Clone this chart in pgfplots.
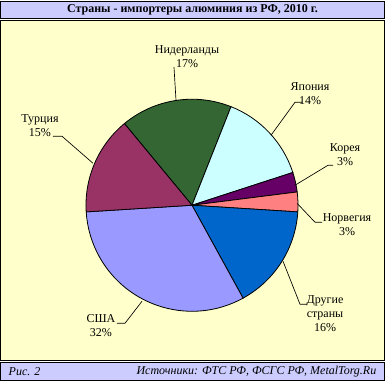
\documentclass[border=0pt]{standalone}
\usepackage{pgfplots}
\pgfplotsset{compat=1.18}
\usepackage{pgfplotstable}
\usepackage{fontspec}
\setmainfont{Liberation Serif}

\definecolor{lav}{HTML}{CCCCFF}
\definecolor{yel}{HTML}{FFFFCC}
\definecolor{cNL}{HTML}{336633}
\definecolor{cJP}{HTML}{CCFFFF}
\definecolor{cKR}{HTML}{660066}
\definecolor{cNO}{HTML}{FF8080}
\definecolor{cOT}{HTML}{0066CC}
\definecolor{cUS}{HTML}{9999FF}
\definecolor{cTR}{HTML}{993366}

\pgfplotstableread{
country value col
Netherlands 17 cNL
Japan 14 cJP
Korea 3 cKR
Norway 3 cNO
Others 16 cOT
USA 32 cUS
Turkey 15 cTR
}\piedata

\begin{document}
\begin{tikzpicture}
\begin{axis}[x=0.75pt, y=0.75pt, xmin=0, xmax=385, ymin=0, ymax=380,
  hide axis, clip=false, anchor=south west, at={(0,0)}, scale only axis]
% frames
\draw[fill=lav, line width=0.8pt] (axis cs:0.6,363) rectangle (axis cs:384.4,379.4);
\draw[fill=yel, line width=1pt] (axis cs:0.7,21) rectangle (axis cs:384.3,361);
\draw[fill=lav, line width=0.8pt] (axis cs:0.6,0.6) rectangle (axis cs:384.4,19);
\node[font=\fontsize{9}{10.5}\selectfont\bfseries] at (axis cs:192.5,371.5) {Страны - импортеры алюминия из РФ, 2010 г.};
\node[font=\fontsize{9}{10.5}\selectfont\itshape, anchor=west] at (axis cs:4,10) {Рис. 2};
\node[font=\fontsize{9}{10.5}\selectfont\itshape, anchor=east] at (axis cs:381,10) {Источники: ФТС РФ, ФСГС РФ, MetalTorg.Ru};
% pie
\pgfplotstablegetrowsof{\piedata}
\pgfmathtruncatemacro\N{\pgfplotsretval-1}
\def\ang{129.6}
\pgfplotsforeachungrouped \i in {0,...,\N}{%
  \pgfplotstablegetelem{\i}{value}\of\piedata \let\v\pgfplotsretval
  \pgfplotstablegetelem{\i}{col}\of\piedata \let\c\pgfplotsretval
  \pgfmathsetmacro\angEnd{\ang-3.6*\v}%
  \pgfmathsetmacro\sx{192+106*cos(\ang)}%
  \pgfmathsetmacro\sy{176+106*sin(\ang)}%
  \edef\tmp{\noexpand\filldraw[fill=\c, draw=black, line width=0.6pt] (axis cs:192,176) -- (axis cs:\sx,\sy) arc[start angle=\ang, end angle=\angEnd, radius=79.5pt] -- cycle;}%
  \tmp
  \let\ang\angEnd
}
% leaders
\draw[line width=0.5pt] (axis cs:174,314) -- (axis cs:176,281);
\draw[line width=0.5pt] (axis cs:271,246) -- (axis cs:295,279) -- (axis cs:302,279);
\draw[line width=0.5pt] (axis cs:295,196) -- (axis cs:328,216) -- (axis cs:333,216);
\draw[line width=0.5pt] (axis cs:297,178) -- (axis cs:315,159) -- (axis cs:322,159);
\draw[line width=0.5pt] (axis cs:283,120) -- (axis cs:300,77) -- (axis cs:307,77);
\draw[line width=0.5pt] (axis cs:117,58) -- (axis cs:125,58) -- (axis cs:142,80);
\draw[line width=0.5pt] (axis cs:53,245) -- (axis cs:62,245) -- (axis cs:93,218);
% labels
\tikzset{lbl/.style={font=\fontsize{9}{10.5}\selectfont, align=center, inner sep=0pt}}
\node[lbl] at (axis cs:187,325) {Нидерланды\\17\%};
\node[lbl] at (axis cs:310,287.5) {Япония\\14\%};
\node[lbl] at (axis cs:345,226.5) {Корея\\3\%};
\node[lbl] at (axis cs:347,156.5) {Норвегия\\3\%};
\node[lbl] at (axis cs:325,68) {Другие\\страны\\16\%};
\node[lbl] at (axis cs:101,55.5) {США\\32\%};
\node[lbl] at (axis cs:40,255.5) {Турция\\15\%};
\end{axis}
\end{tikzpicture}
\end{document}
